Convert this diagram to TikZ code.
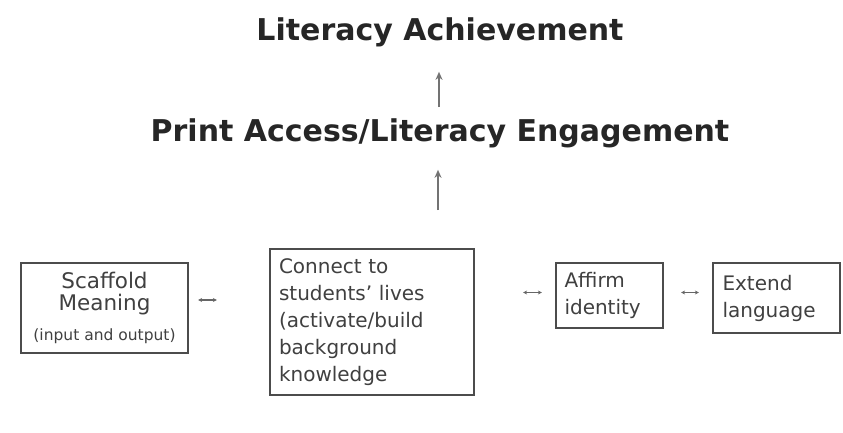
\documentclass[tikz,border=0pt]{standalone}
\usepackage{fontspec}
\setmainfont{DejaVu Sans}
\usetikzlibrary{positioning,arrows.meta}

\tikzset{
  heading/.style={font=\bfseries\fontsize{30}{36}\selectfont, text=black!85, inner sep=0pt},
  stepbox/.style={draw=black!70, line width=2.2pt, font=\fontsize{20}{27}\selectfont, text=black!75, inner sep=0pt},
  uparrow/.style={draw=black!55, line width=1.8pt, -{Stealth[length=8pt,width=7pt]}},
  linkarrow/.style={draw=black!60, line width=1.1pt, {Stealth[length=4pt,width=4pt]}-{Stealth[length=4pt,width=4pt]}}
}

\begin{document}
\begin{tikzpicture}[x=1pt,y=-1pt]

	\useasboundingbox[fill=white] (0,0) rectangle (843,432);

	\node[heading] (achieve) at (440,32) {Literacy Achievement};
	\node[heading] (engage) at (440,133) {Print Access/Literacy Engagement};

	\node[stepbox, minimum width=167pt, minimum height=90pt, align=center] (scaffold) at (104.5,308)
		{{\fontsize{21.5}{27}\selectfont Scaffold}\\[-5pt]{\fontsize{21.5}{27}\selectfont Meaning}\\[3pt]{\fontsize{15.5}{17}\selectfont (input and output)}};
	\node[stepbox, minimum width=204pt, minimum height=146pt, text width=186pt, align=left] (connect) at (372,322)
		{Connect to\\students' lives\\(activate/build\\background\\knowledge};
	\node[stepbox, minimum width=107pt, minimum height=65pt, text width=90pt, align=left] (affirm) at (609.5,295.5)
		{Affirm\\identity};
	\node[stepbox, minimum width=127pt, minimum height=70pt, text width=108pt, align=left] (extend) at (776.5,298)
		{Extend\\language};

	\coordinate (up1) at (439,107);
	\coordinate (up2) at (438,210);
	\draw[uparrow, shorten >=25pt] (up1) -- (up1 |- achieve.south);
	\draw[uparrow, shorten >=22pt] (up2) -- (up2 |- engage.south);

	\draw[linkarrow, shorten <=9pt, shorten >=52pt] ([yshift=8pt]scaffold.east) -- ([yshift=8pt]scaffold.east -| connect.west);
	\draw[linkarrow, shorten <=48pt, shorten >=13pt] ([yshift=3pt]connect.east |- affirm) -- ([yshift=3pt]affirm.west);
	\draw[linkarrow, shorten <=17pt, shorten >=13pt] ([yshift=3pt]affirm.east) -- ([yshift=3pt]extend.west |- affirm);

\end{tikzpicture}
\end{document}
